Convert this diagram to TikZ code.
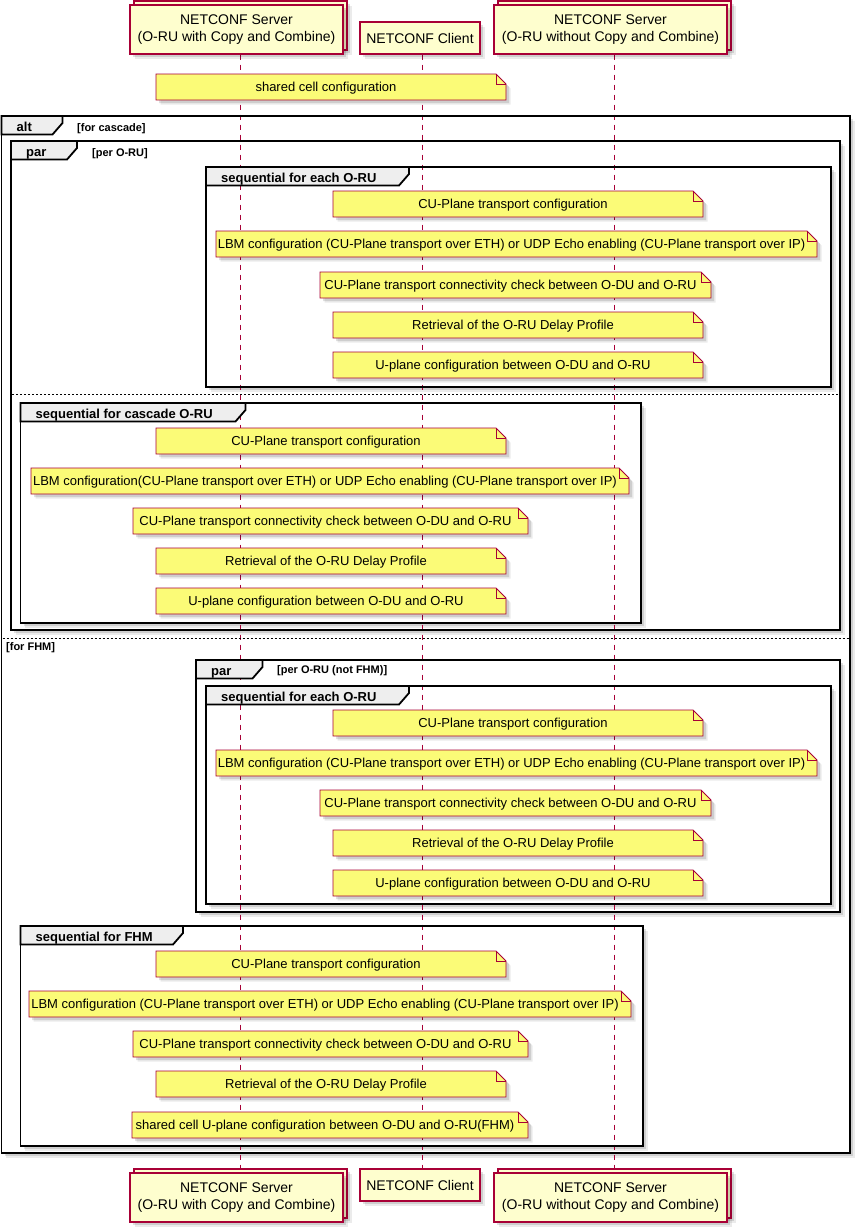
\documentclass[tikz,border=0pt]{standalone}
\usepackage{fontspec}
\setmainfont{Liberation Sans}
\usetikzlibrary{shadows}
\pgfdeclarelayer{bg}
\pgfdeclarelayer{mid}
\pgfsetlayers{bg,mid,main}
\definecolor{notefill}{HTML}{FBFB77}
\definecolor{umlred}{HTML}{A80036}
\definecolor{partfill}{HTML}{FEFECE}
\definecolor{tabfill}{HTML}{EEEEEE}
\tikzset{
  shad/.style={drop shadow={shadow xshift=4.5bp,shadow yshift=-4.5bp,fill=black,opacity=0.08},
               drop shadow={shadow xshift=3bp,shadow yshift=-3bp,fill=black,opacity=0.12}},
  notebody/.style={fill=notefill,draw=umlred,line width=0.9bp,shad},
  notefold/.style={draw=umlred,line width=0.9bp},
  notetxt/.style={font=\fontsize{13bp}{15bp}\selectfont,inner sep=0pt,anchor=base},
  partbox/.style={fill=partfill,draw=umlred,line width=1.1bp,shad},
  parttxt/.style={font=\fontsize{14bp}{17bp}\selectfont,align=center,inner sep=0pt},
  lifeline/.style={draw=umlred,line width=0.9bp,dash pattern=on 5bp off 5bp},
  frameline/.style={draw=black,line width=1.8bp},
  framefill/.style={fill=white,shad},
  tabtxt/.style={font=\bfseries\fontsize{13bp}{15bp}\selectfont,anchor=base west,inner sep=0pt},
  guardtxt/.style={font=\bfseries\fontsize{11bp}{13bp}\selectfont,anchor=base west,inner sep=0pt},
  sepline/.style={draw=black,line width=0.9bp,dash pattern=on 2bp off 2bp},
}
% frame: name, L, T, R, B, tab right, label
\newcommand\umlframe[7]{%
  \begin{pgfonlayer}{bg}\path[framefill] (#2,#3) rectangle (#4,#5);\end{pgfonlayer}
  \draw[frameline] (#2,#3) rectangle (#4,#5);
  \draw[frameline,fill=tabfill] (#2,#3) -- (#6,#3) -- (#6,#3+7) -- (#6-10,#3+18.5) -- (#2,#3+18.5) -- cycle;
  \node[tabtxt] (#1) at (#2+15,#3+15.3) {#7};
}
% note: name, L, T, R, B, text
\newcommand\umlnote[6]{%
  \path[notebody] (#2,#3) -- (#4-10,#3) -- (#4,#3+10) -- (#4,#5) -- (#2,#5) -- cycle;
  \draw[notefold] (#4-10,#3) -- (#4-10,#3+10) -- (#4,#3+10);
  \node[notetxt] (#1) at ({(#2+#4-10)/2},{(#3+#5)/2+4.6}) {#6};
}
\begin{document}
\begin{tikzpicture}[x=1bp,y=-1bp]
\useasboundingbox (0,0) rectangle (857,1229);

% participants (top)
\path[partbox] (134,1) rectangle (347,50);
\node[partbox,parttxt,minimum width=213bp,minimum height=49bp] (s1t) at (236.5,29.5) {NETCONF Server\\(O-RU with Copy and Combine)};
\node[partbox,parttxt,minimum width=120bp,minimum height=32bp] (c1t) at (420,38) {NETCONF Client};
\path[partbox] (498,1) rectangle (731,50);
\node[partbox,parttxt,minimum width=233bp,minimum height=49bp] (s2t) at (610.5,29.5) {NETCONF Server\\(O-RU without Copy and Combine)};

% participants (bottom)
\path[partbox] (134,1169) rectangle (347,1218);
\node[partbox,parttxt,minimum width=213bp,minimum height=49bp] (s1b) at (236.5,1197.5) {NETCONF Server\\(O-RU with Copy and Combine)};
\node[partbox,parttxt,minimum width=120bp,minimum height=32bp] (c1b) at (420,1185) {NETCONF Client};
\path[partbox] (498,1169) rectangle (731,1218);
\node[partbox,parttxt,minimum width=233bp,minimum height=49bp] (s2b) at (610.5,1197.5) {NETCONF Server\\(O-RU without Copy and Combine)};

% lifelines
\begin{pgfonlayer}{mid}
\draw[lifeline] ([xshift=3.5bp]s1t.south) -- ([xshift=3.5bp]s1b.north);
\draw[lifeline] ([xshift=2bp]c1t.south) -- ([xshift=2bp]c1b.north);
\draw[lifeline] ([xshift=3.5bp]s2t.south) -- ([xshift=3.5bp]s2b.north);
\end{pgfonlayer}

\umlnote{n0}{156}{74}{506}{100}{shared cell configuration}

% alt frame
\umlframe{falt}{1.5}{116}{850}{1153}{62.5}{alt}
\node[guardtxt] (galt) at (77,131) {[for cascade]};

% par (per O-RU)
\umlframe{fpar}{11}{141}{840}{630}{77}{par}
\node[guardtxt] (gpar) at (92,156) {[per O-RU]};

\umlframe{fseqa}{206}{167}{831}{387}{409}{sequential for each O-RU}
\umlnote{a1}{333}{191}{703}{217}{CU-Plane transport configuration}
\umlnote{a2}{216}{231}{817}{257}{LBM configuration (CU-Plane transport over ETH) or UDP Echo enabling (CU-Plane transport over IP)}
\umlnote{a3}{320}{272}{711}{298}{CU-Plane transport connectivity check between O-DU and O-RU}
\umlnote{a4}{333}{312}{703}{338}{Retrieval of the O-RU Delay Profile}
\umlnote{a5}{333}{352}{703}{378}{U-plane configuration between O-DU and O-RU}

\draw[sepline] (12,394) -- (839,394);

\umlframe{fseqb}{20.5}{403}{641}{623}{245.5}{sequential for cascade O-RU}
\umlnote{b1}{156}{428}{506}{454}{CU-Plane transport configuration}
\umlnote{b2}{31}{468}{629}{494}{LBM configuration(CU-Plane transport over ETH) or UDP Echo enabling (CU-Plane transport over IP)}
\umlnote{b3}{133}{508}{528}{534}{CU-Plane transport connectivity check between O-DU and O-RU}
\umlnote{b4}{156}{548}{506}{574}{Retrieval of the O-RU Delay Profile}
\umlnote{b5}{156}{588}{506}{614}{U-plane configuration between O-DU and O-RU}

% alt separator
\draw[sepline] (2.5,638) -- (849,638);
\node[guardtxt] (gfhm) at (6,650) {[for FHM]};

\umlframe{fpar2}{196}{660}{840}{912}{262.5}{par}
\node[guardtxt] (gpar2) at (277,673) {[per O-RU (not FHM)]};

\umlframe{fseqc}{206}{686}{831}{904}{409}{sequential for each O-RU}
\umlnote{c1}{333}{710}{703}{736}{CU-Plane transport configuration}
\umlnote{c2}{216}{750}{817}{776}{LBM configuration (CU-Plane transport over ETH) or UDP Echo enabling (CU-Plane transport over IP)}
\umlnote{c3}{320}{790}{711}{816}{CU-Plane transport connectivity check between O-DU and O-RU}
\umlnote{c4}{333}{830}{703}{856}{Retrieval of the O-RU Delay Profile}
\umlnote{c5}{333}{870}{703}{896}{U-plane configuration between O-DU and O-RU}

\umlframe{fseqd}{20.5}{926}{643}{1146}{183}{sequential for FHM}
\umlnote{d1}{156}{951}{506}{977}{CU-Plane transport configuration}
\umlnote{d2}{29}{991}{631}{1017}{LBM configuration (CU-Plane transport over ETH) or UDP Echo enabling (CU-Plane transport over IP)}
\umlnote{d3}{133}{1031}{528}{1057}{CU-Plane transport connectivity check between O-DU and O-RU}
\umlnote{d4}{156}{1071}{506}{1097}{Retrieval of the O-RU Delay Profile}
\umlnote{d5}{132}{1112}{528}{1138}{shared cell U-plane configuration between O-DU and O-RU(FHM)}

\end{tikzpicture}
\end{document}
